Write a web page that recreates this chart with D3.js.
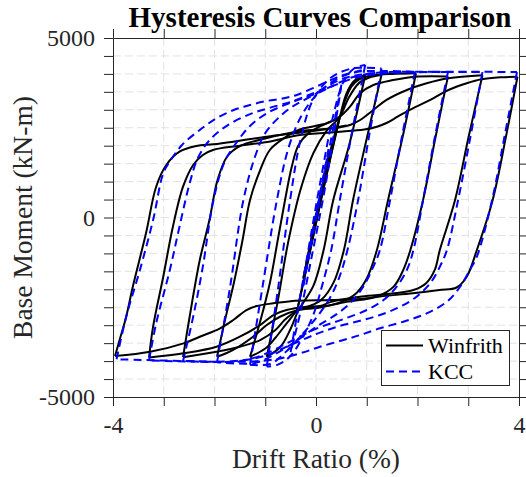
<!DOCTYPE html>
<html>
<head>
<meta charset="utf-8">
<script src="https://cdn.jsdelivr.net/npm/d3@7"></script>
<style>
  body { margin: 0; background: #fff; }
  svg { display: block; font-family: "Liberation Serif", "Times New Roman", serif; }
</style>
</head>
<body>
<div id="chart"></div>
<script>
// tick values and the ones that carry a label
const xTicks = [-4, -3, -2, -1, 0, 1, 2, 3, 4];
const xLabelled = [-4, 0, 4];
const yTicks = d3.range(-5000, 5001, 500);
const yLabelled = [-5000, 0, 5000];

// Winfrith: reloading branches (negative reversal -> positive peak), [drift %, moment kN-m]
const winfrithUp = [
  [[0, 0], [0.12, 820], [0.25, 1700]],
  [[-0.25, -1700], [0.1, 700], [0.3, 1950], [0.47, 2800]],
  [[-0.38, -2650], [-0.1, -800], [0.2, 1150], [0.47, 2800], [0.6, 3450], [0.75, 3800], [0.97, 3970]],
  [[-0.97, -3880], [-0.75, -2300], [-0.55, -700], [-0.3, 800], [-0.05, 1800], [0.2, 2400], [0.47, 2808], [0.65, 3350], [0.85, 3750], [1.05, 3900], [1.29, 3970]],
  [[-1.3, -3880], [-1.1, -2900], [-0.91, -1833], [-0.75, -600], [-0.61, 488], [-0.48, 1400], [-0.35, 2000], [-0.15, 2350], [0.1, 2550], [0.3, 2680], [0.47, 2808], [0.57, 3250], [0.7, 3650], [0.85, 3850], [1.1, 3950], [1.5, 4000], [1.97, 4020]],
  [[-1.95, -3880], [-1.8, -2900], [-1.62, -1833], [-1.45, -650], [-1.3, 488], [-1.1, 1323], [-0.91, 1880], [-0.64, 2200], [-0.32, 2450], [0.21, 2624], [0.47, 2808], [0.67, 3087], [0.87, 3460], [1.13, 3691], [1.52, 3830], [1.95, 3923], [2.6, 3930]],
  [[-2.62, -3890], [-2.49, -2764], [-2.29, -1184], [-2.1, -70], [-1.94, 1045], [-1.75, 1700], [-1.5, 1990], [-1.0, 2200], [-0.32, 2400], [0.34, 2485], [0.67, 2577], [0.87, 2716], [1.13, 2995], [1.39, 3274], [1.79, 3552], [2.18, 3739], [2.61, 3878], [3.28, 3960]],
  [[-3.29, -3900], [-3.21, -3042], [-3.01, -1649], [-2.82, -256], [-2.62, 858], [-2.42, 1463], [-2.23, 1741], [-2.03, 1880], [-1.5, 2000], [-0.9, 2120], [-0.32, 2299], [0.4, 2380], [0.95, 2450], [1.2, 2530], [1.4, 2640], [1.6, 2800], [1.85, 3000], [2.31, 3321], [2.61, 3552], [2.97, 3739], [3.26, 3850], [3.63, 3906], [3.97, 3920]],
  [[-3.96, -3860], [-3.87, -3413], [-3.74, -2764], [-3.61, -1928], [-3.35, -440], [-3.15, 858], [-2.95, 1463], [-2.69, 1833], [-2.36, 1992], [-2.03, 2039], [-1.63, 2113], [-0.97, 2252], [-0.45, 2345], [0.08, 2438], [0.6, 2560]]
];

// Winfrith: unloading branches (positive peak -> negative reversal)
const winfrithDown = [
  [[0.25, 1700], [0, 50], [-0.25, -1700]],
  [[0.47, 2800], [0.1, 500], [-0.2, -1500], [-0.38, -2650]],
  [[0.97, 3970], [0.65, 2000], [0.34, 488], [0.15, -905], [-0.05, -1900], [-0.35, -2600], [-0.5, -3100], [-0.7, -3600], [-0.97, -3880]],
  [[1.29, 3970], [1.0, 2200], [0.73, 488], [0.55, -905], [0.35, -1800], [0.1, -2300], [-0.15, -2480], [-0.35, -2577], [-0.55, -2900], [-0.8, -3350], [-1.0, -3650], [-1.3, -3880]],
  [[1.97, 4020], [1.7, 2200], [1.42, 488], [1.2, -905], [1.0, -1700], [0.8, -2100], [0.5, -2350], [0.1, -2500], [-0.35, -2577], [-0.71, -2764], [-0.97, -2995], [-1.24, -3321], [-1.64, -3692], [-1.95, -3880]],
  [[2.6, 3930], [2.35, 2200], [2.11, 488], [1.86, -905], [1.72, -1460], [1.53, -1925], [1.2, -2200], [0.6, -2350], [0.08, -2500], [-0.35, -2577], [-0.5, -2716], [-0.62, -2855], [-0.8, -3134], [-1.1, -3413], [-1.5, -3600], [-1.96, -3739], [-2.62, -3890]],
  [[3.28, 3960], [3.0, 2200], [2.74, 488], [2.44, -905], [2.34, -1460], [2.17, -1830], [1.92, -2020], [1.5, -2120], [0.9, -2200], [0.3, -2350], [0.08, -2466], [-0.18, -2485], [-0.58, -2577], [-0.84, -2716], [-1.1, -2995], [-1.5, -3321], [-1.96, -3600], [-2.61, -3783], [-3.29, -3900]],
  [[3.97, 3920], [3.75, 2300], [3.48, 480], [3.17, -905], [2.97, -1650], [2.77, -1950], [2.43, -2020], [1.91, -2110], [1.26, -2200], [0.87, -2270], [0.3, -2300], [-0.5, -2330], [-0.84, -2390], [-1.17, -2466], [-1.37, -2577], [-1.63, -2855], [-1.89, -3087], [-2.29, -3321], [-2.61, -3505], [-3.27, -3739], [-3.96, -3860]]
];

// KCC: reloading branches
const kccUp = [
  [[0, 0], [0.12, 920], [0.25, 1900]],
  [[-0.25, -1900], [0.1, 700], [0.3, 2200], [0.5, 3700]],
  [[-0.5, -3750], [-0.2, -1300], [0.1, 1100], [0.35, 2900], [0.55, 3800], [0.75, 4150], [0.97, 4250]],
  [[-0.97, -4150], [-0.75, -2000], [-0.51, 488], [-0.3, 2200], [-0.05, 3300], [0.3, 3900], [0.7, 4150], [1.0, 4170], [1.29, 4150]],
  [[-1.3, -4100], [-1.05, -1900], [-0.77, 488], [-0.55, 1900], [-0.3, 2800], [0.0, 3400], [0.4, 3850], [0.8, 4050], [1.3, 4080], [1.95, 4060]],
  [[-1.95, -4030], [-1.7, -2000], [-1.43, 488], [-1.2, 1700], [-1.0, 2350], [-0.6, 2950], [-0.2, 3300], [0.3, 3650], [0.7, 3900], [1.2, 4030], [2.0, 4060], [2.6, 4050]],
  [[-2.62, -4000], [-2.42, -2764], [-2.23, -1370], [-2.02, 488], [-1.8, 1554], [-1.56, 2100], [-1.3, 2550], [-0.97, 2900], [-0.5, 3200], [0.0, 3450], [0.4, 3700], [0.8, 3900], [1.4, 4020], [2.2, 4050], [3.28, 4050]],
  [[-3.29, -3980], [-3.15, -2950], [-2.88, -1463], [-2.69, -256], [-2.49, 950], [-2.33, 1650], [-2.1, 2150], [-1.75, 2560], [-1.3, 2880], [-0.9, 3060], [-0.5, 3220], [-0.2, 3380], [0.1, 3560], [0.5, 3850], [1.0, 4000], [2.0, 4050], [3.0, 4060], [3.96, 4050]],
  [[-3.93, -3950], [-3.74, -2764], [-3.47, -1463], [-3.21, -70], [-3.01, 1231], [-2.88, 1560], [-2.64, 2020], [-2.29, 2438], [-1.96, 2765], [-1.62, 2995], [-1.3, 3134], [-0.97, 3246], [-0.64, 3320], [-0.38, 3413], [0.08, 3692], [0.5, 3950], [0.9, 4100]]
];

// KCC: unloading branches
const kccDown = [
  [[0.25, 1900], [0, 100], [-0.25, -1900]],
  [[0.5, 3700], [0.2, 1000], [-0.1, -1200], [-0.3, -2600], [-0.5, -3750]],
  [[0.97, 4250], [0.7, 2300], [0.47, 488], [0.3, -905], [0.12, -1900], [-0.05, -2700], [-0.25, -3300], [-0.5, -3850], [-0.75, -4100], [-0.97, -4150]],
  [[1.29, 4150], [1.05, 2300], [0.83, 488], [0.62, -905], [0.45, -1700], [0.25, -2300], [0, -2800], [-0.3, -3300], [-0.6, -3750], [-0.9, -4080], [-1.3, -4100]],
  [[1.95, 4060], [1.7, 2300], [1.46, 488], [1.26, -905], [1.13, -1370], [0.93, -1928], [0.7, -2350], [0.4, -2700], [0, -3050], [-0.4, -3450], [-0.8, -3800], [-1.2, -4050], [-1.95, -4030]],
  [[2.6, 4050], [2.35, 2300], [2.11, 488], [1.92, -905], [1.79, -1463], [1.59, -1928], [1.33, -2300], [1.0, -2577], [0.5, -2850], [0, -3100], [-0.5, -3450], [-1.0, -3800], [-1.5, -4000], [-2.62, -4000]],
  [[3.28, 4050], [3.05, 2300], [2.8, 488], [2.58, -905], [2.44, -1370], [2.25, -1833], [1.98, -2206], [1.66, -2485], [1.26, -2716], [0.87, -2875], [0.4, -3050], [0, -3250], [-0.5, -3550], [-1.0, -3850], [-1.6, -4000], [-3.29, -3980]],
  [[3.96, 4050], [3.72, 2300], [3.47, 488], [3.17, -1090], [3.03, -1463], [2.84, -1928], [2.58, -2346], [2.18, -2670], [1.72, -2903], [1.26, -3087], [0.87, -3274], [0.54, -3413], [0.08, -3600], [-0.32, -3785], [-0.8, -3950], [-1.5, -4020], [-2.5, -4000], [-3.93, -3950]]
];

const W = 526, H = 477;
const margin = { left: 113, top: 38, right: 7, bottom: 80 };
const ink = "#262626";

const svg = d3.select("#chart").append("svg")
  .attr("width", W)
  .attr("height", H);

const x = d3.scaleLinear().domain([-4, 4]).range([margin.left, W - margin.right]);
const y = d3.scaleLinear().domain([-5000, 5000]).range([H - margin.bottom, margin.top]);

svg.append("defs").append("clipPath").attr("id", "plot")
  .append("rect")
  .attr("x", x(-4)).attr("y", y(5000))
  .attr("width", x(4) - x(-4)).attr("height", y(-5000) - y(5000));

// grid
const grid = svg.append("g").attr("stroke", "#e2e2e2").attr("stroke-width", 1).attr("stroke-dasharray", "8,4");
grid.selectAll("line.vx").data(xTicks.slice(1, -1)).join("line")
  .attr("x1", d => x(d)).attr("x2", d => x(d))
  .attr("y1", y(5000)).attr("y2", y(-5000));
grid.selectAll("line.hy").data(yTicks.slice(1, -1)).join("line")
  .attr("x1", x(-4)).attr("x2", x(4))
  .attr("y1", d => y(d)).attr("y2", d => y(d));

// curves
const line = d3.line()
  .x(d => x(d[0]))
  .y(d => y(d[1]))
  .curve(d3.curveCatmullRom.alpha(0.5));

const curves = svg.append("g").attr("clip-path", "url(#plot)").attr("fill", "none");

curves.selectAll("path.win").data(winfrithUp.concat(winfrithDown)).join("path")
  .attr("class", "win")
  .attr("d", line)
  .attr("stroke", "#000")
  .attr("stroke-width", 2);

curves.selectAll("path.kcc").data(kccUp.concat(kccDown)).join("path")
  .attr("class", "kcc")
  .attr("d", line)
  .attr("stroke", "#0000ff")
  .attr("stroke-width", 2)
  .attr("stroke-dasharray", "8,5");

// axes (labels use a plain hyphen for the minus sign)
const fmtX = d => xLabelled.includes(d) ? String(d) : "";
const fmtY = d => yLabelled.includes(d) ? String(d) : "";

function styleAxis(g) {
  g.selectAll("path.domain").attr("stroke", ink).attr("stroke-width", 1);
  g.selectAll(".tick line").attr("stroke", ink).attr("stroke-width", 1);
  g.selectAll(".tick text").attr("fill", ink).style("font-size", "24px")
    .style("font-family", '"Liberation Serif", "Times New Roman", serif');
}

svg.append("g").attr("transform", `translate(0,${y(-5000)})`)
  .call(d3.axisBottom(x).tickValues(xTicks).tickFormat(fmtX).tickSize(9).tickSizeOuter(0).tickPadding(10))
  .call(styleAxis);
svg.append("g").attr("transform", `translate(0,${y(5000)})`)
  .call(d3.axisTop(x).tickValues(xTicks).tickFormat("").tickSize(9).tickSizeOuter(0))
  .call(styleAxis);
svg.append("g").attr("transform", `translate(${x(-4)},0)`)
  .call(d3.axisLeft(y).tickValues(yTicks).tickFormat(fmtY).tickSize(9).tickSizeOuter(0).tickPadding(9))
  .call(styleAxis);
svg.append("g").attr("transform", `translate(${x(4)},0)`)
  .call(d3.axisRight(y).tickValues(yTicks).tickFormat("").tickSize(9).tickSizeOuter(0))
  .call(styleAxis);

// title and axis labels
svg.append("text")
  .attr("x", 320).attr("y", 27)
  .attr("text-anchor", "middle")
  .attr("fill", "#000")
  .style("font-size", "29px").style("font-weight", "bold")
  .text("Hysteresis Curves Comparison");

svg.append("text")
  .attr("x", (x(-4) + x(4)) / 2).attr("y", 468)
  .attr("text-anchor", "middle")
  .attr("fill", ink)
  .style("font-size", "27.5px")
  .text("Drift Ratio (%)");

svg.append("text")
  .attr("transform", `translate(32,${(y(-5000) + y(5000)) / 2}) rotate(-90)`)
  .attr("text-anchor", "middle")
  .attr("fill", ink)
  .style("font-size", "27.5px")
  .text("Base Moment (kN-m)");

// legend
const legend = svg.append("g");
legend.append("rect")
  .attr("x", 381.5).attr("y", 330.5)
  .attr("width", 128).attr("height", 55)
  .attr("fill", "#fff").attr("stroke", ink).attr("stroke-width", 1);

const legendItems = [
  { name: "Winfrith", color: "#000", dash: null, y: 345.5 },
  { name: "KCC", color: "#0000ff", dash: "8,5", y: 371.5 }
];
legendItems.forEach(it => {
  legend.append("line")
    .attr("x1", 386).attr("x2", 423)
    .attr("y1", it.y).attr("y2", it.y)
    .attr("stroke", it.color).attr("stroke-width", 2)
    .attr("stroke-dasharray", it.dash);
  legend.append("text")
    .attr("x", 428).attr("y", it.y + 7.5)
    .attr("fill", "#000")
    .style("font-size", "22px")
    .text(it.name);
});
</script>
</body>
</html>
